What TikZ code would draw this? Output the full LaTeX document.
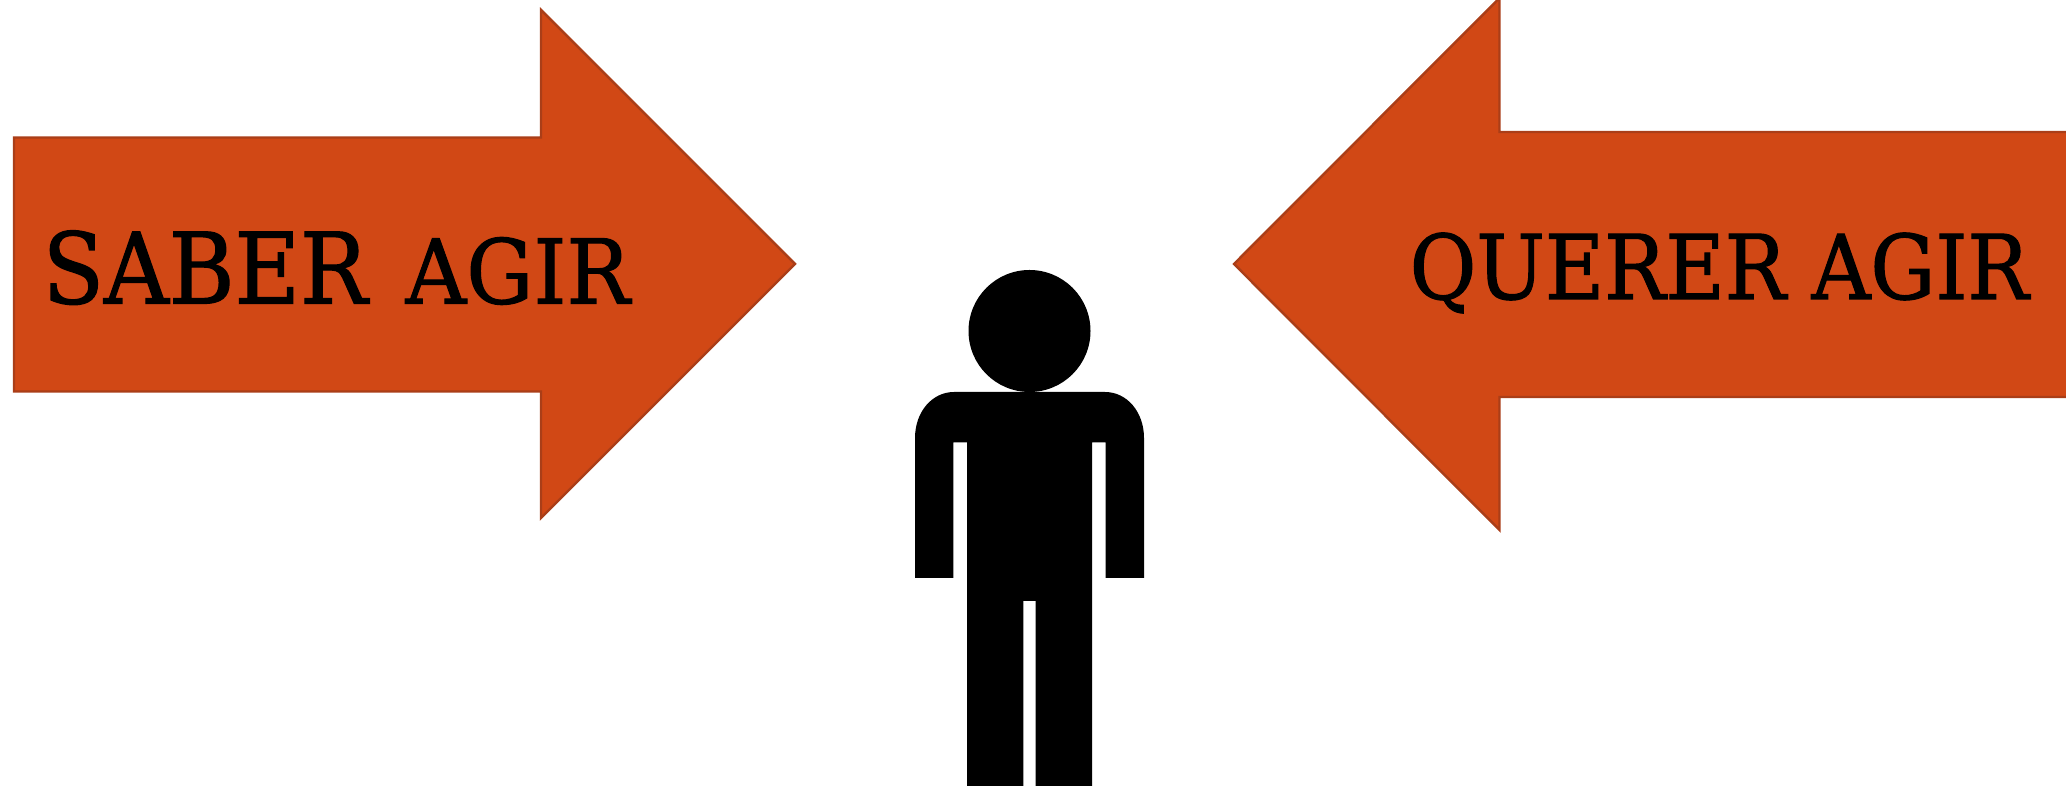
\documentclass[tikz,border=0pt]{standalone}
\usepackage{fontspec}
\usepackage{xcolor}
\newfontfamily\slabfont[FakeStretch=0.91,FakeBold=1.2]{DejaVu Serif}
\newfontfamily\slabwide[FakeStretch=0.94,FakeBold=1.2]{DejaVu Serif}
\definecolor{arroworange}{RGB}{209,72,21}
\definecolor{arrowedge}{RGB}{170,62,24}
\tikzset{
    bigarrow/.style={draw=arrowedge, fill=arroworange, line width=0.7pt, line join=miter},
    person/.style={fill=black},
    wordbig/.style={anchor=base west, inner sep=0pt, text=black, font=\slabfont\fontsize{28}{28}\selectfont},
    wordsmall/.style={anchor=base west, inner sep=0pt, text=black, font=\slabwide\fontsize{25.4}{26}\selectfont},
    wordright/.style={anchor=base west, inner sep=0pt, text=black, font=\slabfont\fontsize{25.4}{26}\selectfont},
}
\begin{document}
\begin{tikzpicture}[x=0.01cm, y=-0.01cm]
    \useasboundingbox (0,0) rectangle (2066,786);

    % Left arrow
    \draw[bigarrow] (14,137.5) -- (541,137.5) -- (541,10) -- (795,264) -- (541,518) -- (541,391.5) -- (14,391.5) -- cycle;
    \node[wordbig] (saber) at (42,303.5) {SABER};
    \node[wordsmall] (agirL) at (405,303.5) {AGIR};

    % Right arrow
    \draw[bigarrow] (2080,132) -- (1499.5,132) -- (1499.5,-2) -- (1234,264) -- (1499.5,530) -- (1499.5,397) -- (2080,397);
    \node[wordright] (querer) at (1409,299) {QUERER AGIR};

    % Person
    \fill[person] (1029.5,331) circle (61);
    \fill[person] (915,578) -- (915,438) .. controls (915,412) and (932,392) .. (954,392)
        -- (1105,392) .. controls (1127,392) and (1144,412) .. (1144,438)
        -- (1144,578) -- (1105.5,578) -- (1105.5,442.5) -- (1092,442.5) -- (1092,786)
        -- (1035.7,786) -- (1035.7,601) -- (1023.3,601) -- (1023.3,786) -- (967,786)
        -- (967,442.5) -- (953.3,442.5) -- (953.3,578) -- cycle;
\end{tikzpicture}
\end{document}
